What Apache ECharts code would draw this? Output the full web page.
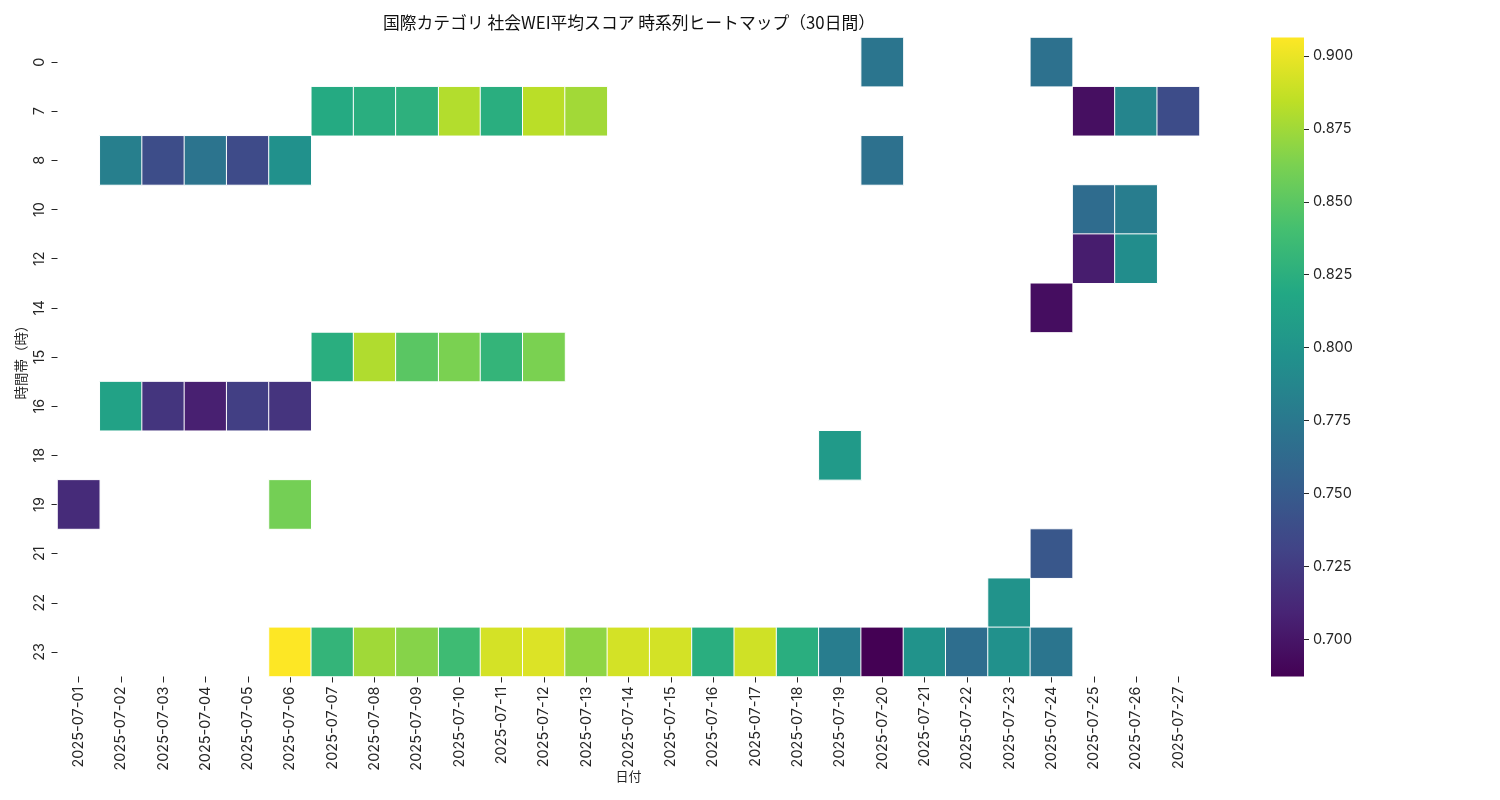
<!DOCTYPE html>
<html><head><meta charset="utf-8">
<style>html,body{margin:0;padding:0;background:#fff}#c{width:1500px;height:800px}</style>
<script src="https://cdn.jsdelivr.net/npm/echarts@6/dist/echarts.min.js"></script>
</head><body><div id="c"></div>
<script>
const days = ['01','02','03','04','05','06','07','08','09','10','11','12','13','14','15','16','17','18','19','20','21','22','23','24','25','26','27'];
const dates = days.map(d => '2025-07-' + d);
const hours = ['0','7','8','10','12','14','15','16','18','19','21','22','23'];
const h0  = {'20':0.7723,'24':0.7688};
const h7  = {'07':0.8207,'08':0.8241,'09':0.8264,'10':0.881,'11':0.8241,'12':0.8834,'13':0.8756,'25':0.696,'26':0.7859,'27':0.7377};
const h8  = {'02':0.781,'03':0.738,'04':0.771,'05':0.737,'06':0.797,'20':0.7688};
const h10 = {'25':0.764,'26':0.7793};
const h12 = {'25':0.7048,'26':0.7933};
const h14 = {'24':0.695};
const h15 = {'07':0.8241,'08':0.880,'09':0.8497,'10':0.8625,'11':0.8303,'12':0.8625};
const h16 = {'02':0.813,'03':0.7205,'04':0.7065,'05':0.728,'06':0.720};
const h18 = {'19':0.8055};
const h19 = {'01':0.714,'06':0.860};
const h21 = {'24':0.7464};
const h22 = {'23':0.799};
const h23 = {'06':0.9063,'07':0.8304,'08':0.875,'09':0.8664,'10':0.837,'11':0.8923,'12':0.895,'13':0.869,'14':0.892,'15':0.892,'16':0.824,'17':0.8905,'18':0.8241,'19':0.7793,'20':0.6873,'21':0.799,'22':0.7661,'23':0.7968,'24':0.7723};
const rows = [h0,h7,h8,h10,h12,h14,h15,h16,h18,h19,h21,h22,h23];
const barTicks = [0.700,0.725,0.750,0.775,0.800,0.825,0.850,0.875,0.900];
const vMin = 0.6873, vMax = 0.9063;
const viridis = ['#440154','#482475','#414487','#355f8d','#2a788e','#21918c','#22a884','#44bf70','#7ad151','#bddf26','#fde725'];

const cells = [];
rows.forEach((row, y) => Object.keys(row).forEach(d => cells.push([days.indexOf(d), y, row[d]])));

const TICK_FONT = '"Inter","Noto Sans CJK JP",sans-serif';
const CJK_FONT = '"Noto Sans CJK JP",sans-serif';
const INK = '#262626';
const barFill = new echarts.graphic.LinearGradient(0,1,0,0,
  viridis.map((color,i) => ({offset:i/(viridis.length-1),color})));
const chart = echarts.init(document.getElementById('c'), null, {renderer:'canvas'});
chart.setOption({
  animation:false,
  backgroundColor:'#fff',
  textStyle:{fontFamily:TICK_FONT},
  title:{text:'国際カテゴリ 社会WEI平均スコア 時系列ヒートマップ（30日間）',left:624,top:9,textAlign:'center',
    textStyle:{fontFamily:CJK_FONT,fontSize:16.8,fontWeight:'normal',color:'#111'}},
  grid:[{left:57.5,top:37.5,width:1142,height:639},{left:1271,top:37.5,width:33,height:639}],
  xAxis:[{type:'category',gridIndex:0,data:dates,position:'bottom',name:'日付',nameLocation:'middle',nameGap:100,nameMoveOverlap:false,
      nameTextStyle:{fontFamily:CJK_FONT,fontSize:13,color:INK,verticalAlign:'middle'},
      axisLine:{show:false},axisTick:{show:true,alignWithLabel:true,length:6,lineStyle:{color:INK,width:1}},
      axisLabel:{rotate:90,fontSize:14.5,color:INK,margin:10,interval:0},splitLine:{show:false}},
    {type:'category',gridIndex:1,data:['bar'],show:false}],
  yAxis:[{type:'category',gridIndex:0,data:hours,inverse:true,name:'時間帯（時）',nameLocation:'middle',nameGap:37,nameMoveOverlap:false,
      nameTextStyle:{fontFamily:CJK_FONT,fontSize:13.5,color:INK,verticalAlign:'middle',padding:[0,4,0,0]},
      axisLine:{show:false},axisTick:{show:true,alignWithLabel:true,length:6,lineStyle:{color:INK,width:1}},
      axisLabel:{rotate:90,fontSize:14.5,color:INK,margin:11,interval:0,align:'center',verticalAlign:'bottom'},splitLine:{show:false}},
    {type:'value',gridIndex:1,position:'right',min:vMin,max:vMax,
      axisLine:{show:false},splitLine:{show:false},
      axisTick:{show:true,length:5,lineStyle:{color:INK,width:1},customValues:barTicks},
      axisLabel:{fontSize:14.5,color:INK,margin:9,customValues:barTicks,formatter:v=>v.toFixed(3)}}],
  visualMap:{type:'continuous',show:false,min:vMin,max:vMax,seriesIndex:0,inRange:{color:viridis}},
  series:[{type:'heatmap',xAxisIndex:0,yAxisIndex:0,data:cells,
      itemStyle:{borderColor:'#fff',borderWidth:1},emphasis:{disabled:true},progressive:0},
    {type:'bar',xAxisIndex:1,yAxisIndex:1,data:[vMax],barWidth:'100%',silent:true,itemStyle:{color:barFill}}]
});
</script></body></html>
